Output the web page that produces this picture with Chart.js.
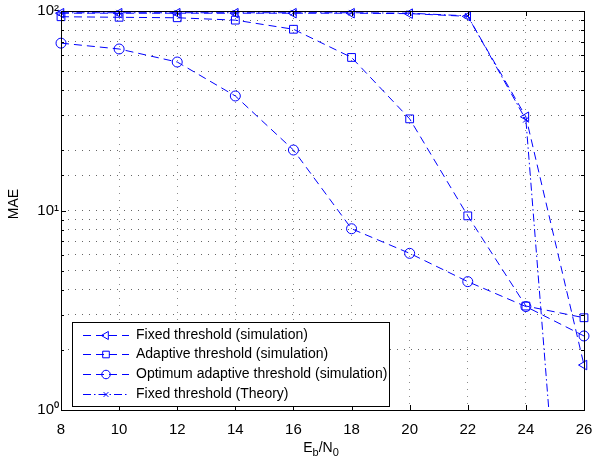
<!DOCTYPE html>
<html>
<head>
<meta charset="utf-8">
<script src="https://cdn.jsdelivr.net/npm/chart.js@4.4.0/dist/chart.umd.min.js"></script>
<style>
  body { margin: 0; background: #fff; }
  #wrap { width: 594px; height: 467px; }
</style>
</head>
<body>
<div id="wrap"><canvas id="maeChart" width="594" height="467"></canvas></div>
<script>
// Eb/N0 (dB) and MAE values
var ebn0 = [8, 10, 12, 14, 16, 18, 20, 22, 24, 26]
var fixedSim = [97.5, 97.5, 97.5, 97.5, 97.5, 97.5, 97, 94, 29.5, 1.68]
var adaptiveSim = [93.6, 93, 92.5, 90, 81, 58.5, 28.8, 9.4, 3.32, 2.9]
var optimumSim = [69, 64.5, 55.5, 37.5, 20.1, 8.1, 6.1, 4.4, 3.3, 2.35]
var theoryEbn0 = [8, 10, 12, 14, 16, 18, 20, 22, 24, 25]
var fixedTheory = [98, 98, 98, 98, 98, 98, 97.5, 94.5, 28.5, 0.41]

var xTicks = [8, 10, 12, 14, 16, 18, 20, 22, 24, 26]
var yDecadeLabels = { 1: '10\u2070', 10: '10\u00b9', 100: '10\u00b2' }
var legendLabels = [
  'Fixed threshold (simulation)',
  'Adaptive threshold (simulation)',
  'Optimum adaptive threshold (simulation)',
  'Fixed threshold (Theory)',
]

var BLUE = '#0000ff'
var FONT = "'Liberation Sans', Arial, Helvetica, sans-serif"

function pts(xs, ys) {
  return xs.map(function (x, i) { return { x: x, y: ys[i] } })
}

function isDecade(v) {
  var l = Math.log10(v)
  return Math.abs(l - Math.round(l)) < 1e-9
}

var styles = [
  { pointStyle: 'triangle', rotation: -90, radius: 5.5, dash: [8, 5] },
  { pointStyle: 'rect', rotation: 0, radius: 5.5, dash: [8, 5] },
  { pointStyle: 'circle', rotation: 0, radius: 5, dash: [8, 5] },
  { pointStyle: 'crossRot', rotation: 0, radius: 4, dash: [8, 3, 1.5, 3] },
]

function makeSet(label, data, st, clip) {
  return {
    label: label,
    data: data,
    borderColor: BLUE,
    backgroundColor: 'rgba(0,0,0,0)',
    borderWidth: 1,
    borderDash: st.dash,
    pointStyle: st.pointStyle,
    pointRotation: st.rotation,
    pointRadius: st.radius,
    pointBorderWidth: 1,
    pointBorderColor: BLUE,
    pointBackgroundColor: 'rgba(0,0,0,0)',
    tension: 0,
    fill: false,
    clip: clip,
  }
}

var matlabFrame = {
  id: 'matlabFrame',
  afterDatasetsDraw: function (chart) {
    var ctx = chart.ctx
    var a = chart.chartArea
    var xs = chart.scales.x
    var ys = chart.scales.y
    ctx.save()
    ctx.strokeStyle = '#000'
    ctx.lineWidth = 1
    ctx.setLineDash([])
    ctx.beginPath()
    xs.ticks.forEach(function (t) {
      var px = Math.round(xs.getPixelForValue(t.value)) + 0.5
      ctx.moveTo(px, a.bottom); ctx.lineTo(px, a.bottom - 5)
      ctx.moveTo(px, a.top); ctx.lineTo(px, a.top + 5)
    })
    ys.ticks.forEach(function (t) {
      var py = Math.round(ys.getPixelForValue(t.value)) + 0.5
      var len = isDecade(t.value) ? 5 : 3
      ctx.moveTo(a.left, py); ctx.lineTo(a.left + len, py)
      ctx.moveTo(a.right, py); ctx.lineTo(a.right - len, py)
    })
    ctx.stroke()
    ctx.strokeRect(Math.round(a.left) + 0.5, Math.round(a.top) + 0.5,
      Math.round(a.right - a.left), Math.round(a.bottom - a.top))
    ctx.restore()
  },
  afterDraw: function (chart) {
    var ctx = chart.ctx
    ctx.save()

    // legend box
    var lx = 72, ly = 322, lw = 317, lh = 84
    ctx.fillStyle = '#fff'
    ctx.fillRect(lx, ly, lw, lh)
    ctx.strokeStyle = '#000'
    ctx.lineWidth = 1
    ctx.setLineDash([])
    ctx.strokeRect(lx + 0.5, ly + 0.5, lw, lh)
    ctx.font = '14px ' + FONT
    ctx.textBaseline = 'middle'
    ctx.textAlign = 'left'
    legendLabels.forEach(function (txt, i) {
      var y = Math.round(334.5 + i * 19.7) + 0.5
      var st = styles[i]
      ctx.strokeStyle = BLUE
      ctx.lineWidth = 1
      ctx.setLineDash(st.dash)
      ctx.beginPath()
      ctx.moveTo(83, y); ctx.lineTo(129, y)
      ctx.stroke()
      ctx.setLineDash([])
      ctx.fillStyle = 'rgba(0,0,0,0)'
      Chart.helpers.drawPoint(ctx, {
        pointStyle: st.pointStyle, rotation: st.rotation,
        radius: st.radius * 0.85, borderWidth: 1,
      }, 106, y)
      ctx.fillStyle = '#000'
      ctx.fillText(txt, 136, y)
    })

    // y axis title
    ctx.fillStyle = '#000'
    ctx.font = '14px ' + FONT
    ctx.translate(14, 204)
    ctx.rotate(-Math.PI / 2)
    ctx.textAlign = 'center'
    ctx.fillText('MAE', 0, 0)
    ctx.setTransform(1, 0, 0, 1, 0, 0)

    // x axis title with subscripts
    var big = '14px ' + FONT, small = '11px ' + FONT
    var parts = [['E', big, 0], ['b', small, 4], ['/N', big, 0], ['0', small, 4]]
    var total = 0
    parts.forEach(function (p) { ctx.font = p[1]; total += ctx.measureText(p[0]).width })
    var x = 321 - total / 2
    ctx.textAlign = 'left'
    ctx.textBaseline = 'alphabetic'
    parts.forEach(function (p) {
      ctx.font = p[1]
      ctx.fillText(p[0], x, 452 + p[2])
      x += ctx.measureText(p[0]).width
    })
    ctx.restore()
  },
}

var ctx = document.getElementById('maeChart').getContext('2d')
var maeChart = new Chart(ctx, {
  type: 'line',
  data: {
    datasets: [
      makeSet(legendLabels[0], pts(ebn0, fixedSim), styles[0], false),
      makeSet(legendLabels[1], pts(ebn0, adaptiveSim), styles[1], false),
      makeSet(legendLabels[2], pts(ebn0, optimumSim), styles[2], false),
      makeSet(legendLabels[3], pts(theoryEbn0, fixedTheory), styles[3],
        { left: 10, top: 10, right: 10, bottom: 0 }),
    ],
  },
  options: {
    responsive: false,
    animation: false,
    devicePixelRatio: 1,
    layout: { padding: { top: 11, right: 10, left: 0, bottom: 0 } },
    plugins: { legend: { display: false }, tooltip: { enabled: false } },
    scales: {
      x: {
        type: 'linear',
        min: 8,
        max: 26,
        afterBuildTicks: function (scale) {
          scale.ticks = xTicks.map(function (v) { return { value: v } })
        },
        afterFit: function (scale) {
          scale.height = 57
          scale.paddingLeft = 0
          scale.paddingRight = 0
        },
        grid: { color: 'rgba(0,0,0,0.45)', lineWidth: 1, drawTicks: false },
        border: { display: false, dash: [1, 6] },
        ticks: {
          color: '#000',
          font: { family: FONT, size: 15 },
          padding: 11,
          maxRotation: 0,
          autoSkip: false,
        },
      },
      y: {
        type: 'logarithmic',
        min: 1,
        max: 100,
        afterFit: function (scale) {
          scale.width = 61
          scale.paddingTop = 0
          scale.paddingBottom = 0
        },
        grid: { color: 'rgba(0,0,0,0.6)', lineWidth: 1, drawTicks: false },
        border: { display: false, dash: [1, 6] },
        ticks: {
          color: '#000',
          font: { family: FONT, size: 15 },
          padding: 2,
          autoSkip: false,
          callback: function (v) {
            return isDecade(v) ? yDecadeLabels[Math.round(v)] : ''
          },
        },
      },
    },
  },
  plugins: [matlabFrame],
})
</script>
</body>
</html>
